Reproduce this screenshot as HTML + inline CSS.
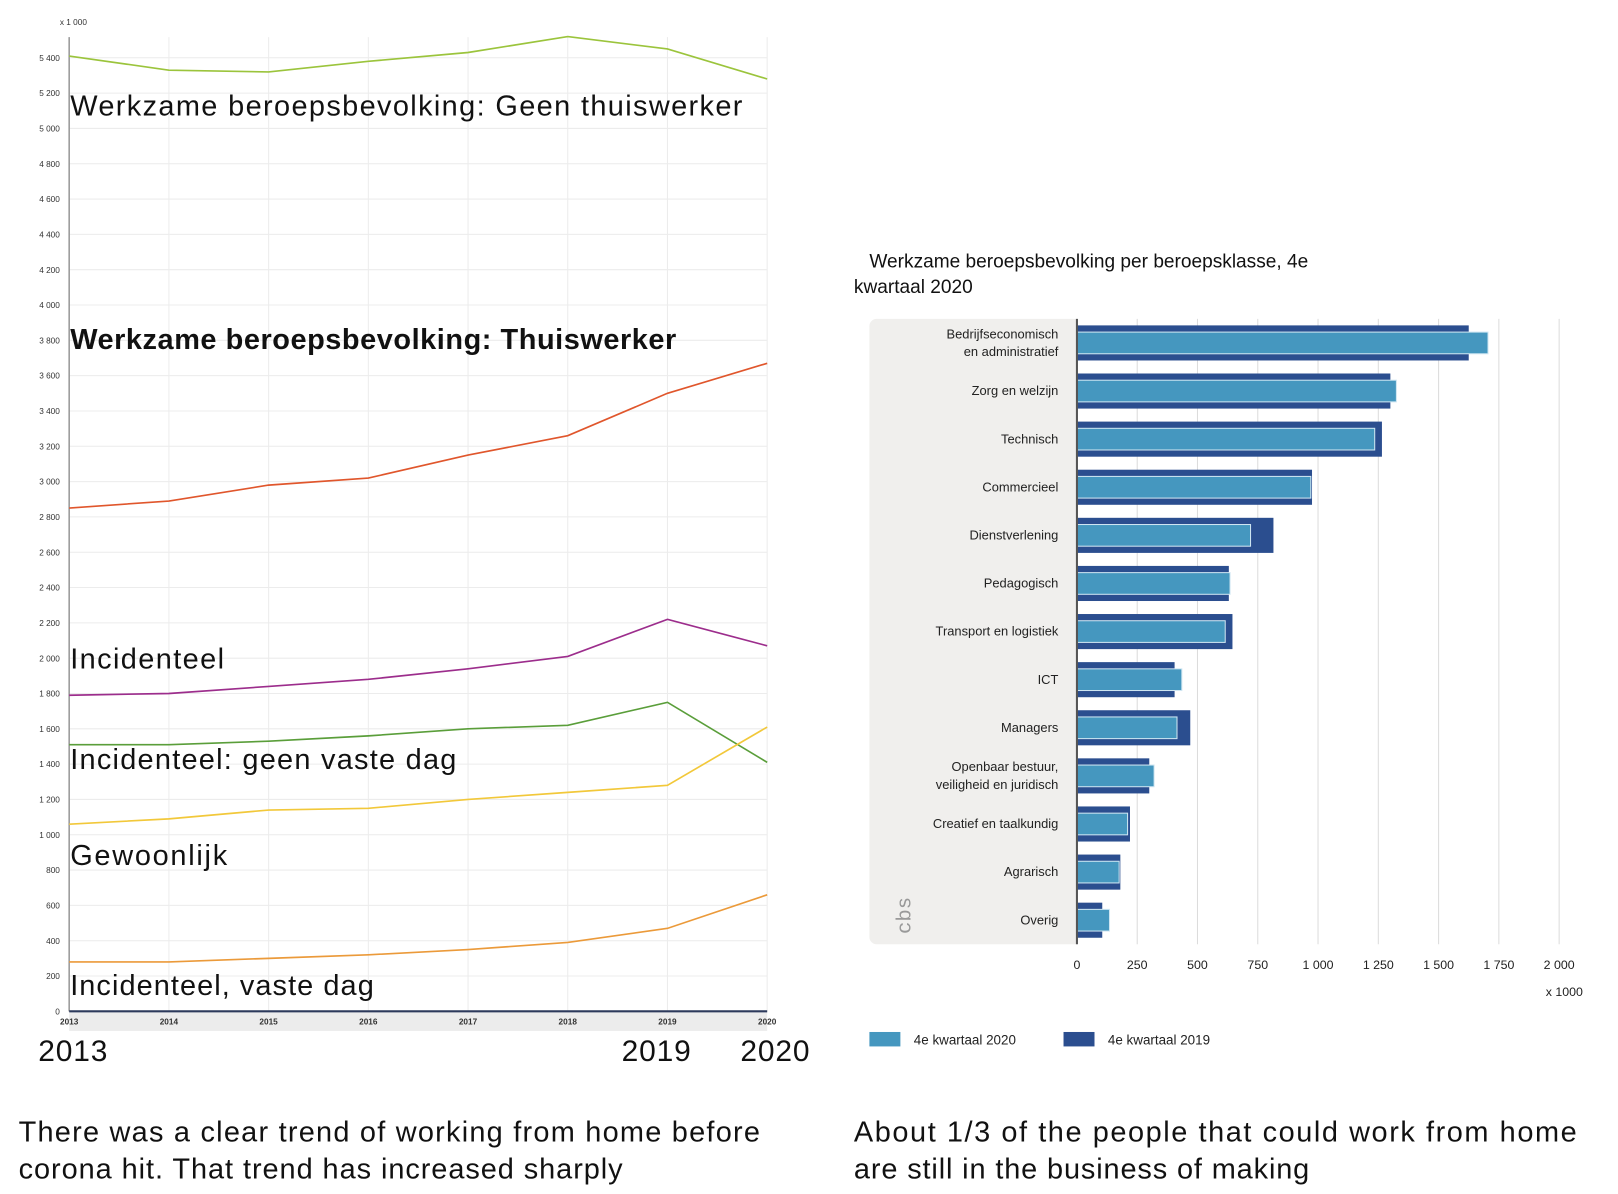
<!DOCTYPE html>
<html><head><meta charset="utf-8"><style>
html,body{margin:0;padding:0;background:#fff;}
svg{display:block;font-family:"Liberation Sans",sans-serif;}
</style></head><body>
<svg id="s" width="1618" height="1194" viewBox="0 0 1567 1157" preserveAspectRatio="none">
<g id="left"></g>
<g id="right"></g>
<text x="18" y="1106" font-size="28" fill="#111" textLength="718" lengthAdjust="spacing">There was a clear trend of working from home before</text>
<text x="18" y="1142" font-size="28" fill="#111" textLength="585" lengthAdjust="spacing">corona hit. That trend has increased sharply</text>
<text x="827" y="1106" font-size="28" fill="#111" textLength="700" lengthAdjust="spacing">About 1/3 of the people that could work from home</text>
<text x="827" y="1142" font-size="28" fill="#111" textLength="441" lengthAdjust="spacing">are still in the business of making</text>
</svg>
<script>
const years=[2013,2014,2015,2016,2017,2018,2019,2020];
const yTicks=[0,200,400,600,800,1000,1200,1400,1600,1800,2000,2200,2400,2600,2800,3000,3200,3400,3600,3800,4000,4200,4400,4600,4800,5000,5200,5400];
const geenThuis=[5410,5330,5320,5380,5430,5520,5450,5280];
const thuiswerker=[2850,2890,2980,3020,3150,3260,3500,3670];
const incidenteel=[1790,1800,1840,1880,1940,2010,2220,2070];
const geenVasteDag=[1510,1510,1530,1560,1600,1620,1750,1410];
const gewoonlijk=[1060,1090,1140,1150,1200,1240,1280,1610];
const vasteDag=[280,280,300,320,350,390,470,660];

const categories=["Bedrijfseconomisch|en administratief","Zorg en welzijn","Technisch","Commercieel","Dienstverlening","Pedagogisch","Transport en logistiek","ICT","Managers","Openbaar bestuur,|veiligheid en juridisch","Creatief en taalkundig","Agrarisch","Overig"];
const q2019=[1625,1300,1265,975,815,630,645,405,470,300,220,180,105];
const q2020=[1705,1325,1235,970,720,635,615,435,415,320,210,175,135];
const xTicks=[0,250,500,750,1000,1250,1500,1750,2000];
const xTickLabels=["0","250","500","750","1 000","1 250","1 500","1 750","2 000"];

(function(){
const NS="http://www.w3.org/2000/svg";
function mk(tag,attrs,parent,txt){const e=document.createElementNS(NS,tag);for(const k in attrs)e.setAttribute(k,attrs[k]);if(txt!==undefined)e.textContent=txt;parent.appendChild(e);return e;}

const L=document.getElementById('left');
const x0=67,x1=743,y0=980,yTop=56;
const xs=i=>x0+(x1-x0)*i/(years.length-1);
const ys=v=>y0-(y0-yTop)*v/5400;
for(const t of yTicks){
  const g=mk('line',{x1:x0,x2:x1,y1:ys(t),y2:ys(t),stroke:'#ececec','stroke-width':1},L);
  
  
  const tx=mk('text',{x:58,y:ys(t)+3,'font-size':8,'text-anchor':'end',fill:'#333'},L,t===0?'0':(t>=1000?Math.floor(t/1000)+' '+String(t%1000).padStart(3,'0'):String(t)));
  
  
}
years.forEach((y,i)=>{
  const g=mk('line',{x1:xs(i),x2:xs(i),y1:36,y2:y0,stroke:'#ececec','stroke-width':1},L);
  
  
});
const band=mk('rect',{x:x0,y:y0+1,width:x1-x0,height:18,fill:'#ececec'},L);


years.forEach((y,i)=>{
  const t=mk('text',{x:xs(i),y:993,'font-size':8,'font-weight':'bold','text-anchor':'middle',fill:'#333'},L,y);
  
  
});
const ax=mk('line',{x1:x0,x2:x0,y1:36,y2:y0,stroke:'#999','stroke-width':1.5},L);


const axb=mk('line',{x1:x0,x2:x1,y1:y0,y2:y0,stroke:'#2d3a5c','stroke-width':2},L);


const unit=mk('text',{x:58,y:24,'font-size':8,fill:'#333'},L,'x 1 000');


const series=[[geenThuis,'#9bc43c','series-geen-thuiswerker'],[thuiswerker,'#e0562c','series-thuiswerker'],[incidenteel,'#9c2d8c','series-incidenteel'],[geenVasteDag,'#5a9e3a','series-geen-vaste-dag'],[gewoonlijk,'#f2c83a','series-gewoonlijk'],[vasteDag,'#eb9a3a','series-vaste-dag']];
for(const [d,c,n] of series){
  const p=mk('polyline',{points:d.map((v,i)=>xs(i)+','+ys(v)).join(' '),fill:'none',stroke:c,'stroke-width':1.6},L);
  
  
}
const labels=[['Werkzame beroepsbevolking: Geen thuiswerker',112,'normal',651],['Werkzame beroepsbevolking: Thuiswerker',338,'bold',587],['Incidenteel',648,'normal',149],['Incidenteel: geen vaste dag',745,'normal',374],['Gewoonlijk',838,'normal',152],['Incidenteel, vaste dag',964,'normal',294]];
for(const [t,y,w,len] of labels){
  const e=mk('text',{x:68,y:y,'font-size':28,'font-weight':w,fill:'#111',textLength:len,lengthAdjust:'spacing'},L,t);
  
  
}
for(const [t,x] of [['2013',37],['2019',602],['2020',717]]){
  const e=mk('text',{x:x,y:1028,'font-size':29,fill:'#111',textLength:67,lengthAdjust:'spacing'},L,t);
  
  
}

const R=document.getElementById('right');
const bx0=1043,bx1=1510,barTop=309,barBot=915;
const bs=v=>bx0+(bx1-bx0)*v/2000;
const t1=mk('text',{x:842,y:259,'font-size':18.5,fill:'#111'},R,'Werkzame beroepsbevolking per beroepsklasse, 4e');


const t2=mk('text',{x:827,y:284,'font-size':18.5,fill:'#111'},R,'kwartaal 2020');


const panel=mk('rect',{x:842,y:barTop,width:bx0-842+6,height:barBot-barTop,rx:7,fill:'#f0efed'},R);


mk('rect',{x:bx0,y:barTop,width:20,height:barBot-barTop,fill:'#fff'},R);
xTicks.forEach((t,i)=>{
  if(i>0){const g=mk('line',{x1:bs(t),x2:bs(t),y1:barTop,y2:barBot,stroke:'#dcdcdc','stroke-width':1},R);
  
  }
  const e=mk('text',{x:bs(t),y:939,'font-size':12,'text-anchor':'middle',fill:'#222'},R,xTickLabels[i]);
  
  
});
const un=mk('text',{x:1533,y:965,'font-size':12,'text-anchor':'end',fill:'#222'},R,'x 1000');


const pitch=(barBot-barTop)/categories.length;
categories.forEach((c,i)=>{
  const cy=barTop+pitch*(i+0.5);
  const d=mk('rect',{x:bx0,y:cy-17,width:bs(q2019[i])-bx0,height:34,fill:'#2b4e8f'},R);
  
  
  const l=mk('rect',{x:bx0,y:cy-10.5,width:bs(q2020[i])-bx0,height:21,fill:'#4597bf',stroke:'#cfe6f2','stroke-width':1},R);
  
  
  const parts=c.split('|');
  parts.forEach((p,j)=>{
    const e=mk('text',{x:1025,y:cy+4+(j-(parts.length-1)/2)*17,'font-size':12.5,'text-anchor':'end',fill:'#222'},R,p);
    
    
  });
});
const yax=mk('line',{x1:bx0,x2:bx0,y1:barTop,y2:barBot,stroke:'#555','stroke-width':2},R);


const logo=mk('text',{x:855,y:898,'font-size':20,fill:'#999','font-family':'Liberation Mono,monospace'},R,'cbs');


logo.setAttribute('transform','rotate(-90 868 884) translate(-8 0)');
const s1=mk('rect',{x:842,y:1000,width:30,height:14,fill:'#4597bf'},R);


const lt1=mk('text',{x:885,y:1012,'font-size':13,fill:'#222'},R,'4e kwartaal 2020');


const s2=mk('rect',{x:1030,y:1000,width:30,height:14,fill:'#2b4e8f'},R);


const lt2=mk('text',{x:1073,y:1012,'font-size':13,fill:'#222'},R,'4e kwartaal 2019');


})();
</script>
</body></html>
